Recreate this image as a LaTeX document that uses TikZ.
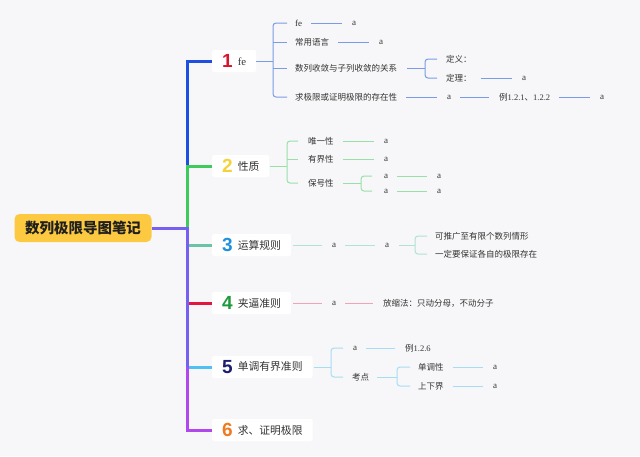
\documentclass[tikz,border=0pt]{standalone}
\usepackage{fontspec}
\setmainfont{Liberation Serif}
\newfontfamily\cjk{Noto Sans CJK SC}
\newfontfamily\numf{Liberation Sans}
\definecolor{bg}{HTML}{F7F7F9}
\definecolor{txt}{HTML}{333333}
\definecolor{rootc}{HTML}{FCC940}
\definecolor{t1}{HTML}{1E4FE0}\definecolor{s1}{HTML}{7C9BE6}
\definecolor{t2}{HTML}{3DCB5C}\definecolor{s2}{HTML}{98E0A8}
\definecolor{t3}{HTML}{6BC3A5}\definecolor{s3}{HTML}{B1E2D2}
\definecolor{t4}{HTML}{E3173E}\definecolor{s4}{HTML}{F2A4B4}
\definecolor{t5}{HTML}{4EC0F2}\definecolor{s5}{HTML}{A6DDF5}
\definecolor{tp}{HTML}{7560F2}\definecolor{t6}{HTML}{B048EE}
\definecolor{n1}{HTML}{D8142E}\definecolor{n2}{HTML}{F5D23C}
\definecolor{n3}{HTML}{1E90DD}\definecolor{n4}{HTML}{1E9A3A}
\definecolor{n5}{HTML}{1E1E6E}\definecolor{n6}{HTML}{F07A1E}
\newcommand{\nm}[3]{{\numf\bfseries\fontsize{19}{19}\selectfont\color{#1}#2}\hspace{5pt}\raisebox{2.5pt}{#3}}
\tikzset{
  sm/.style={anchor=west, inner sep=0pt, text=txt, font=\cjk\fontsize{8.5}{10}\selectfont},
  la/.style={anchor=west, inner sep=0pt, text=txt, font=\rmfamily\fontsize{9}{10}\selectfont},
  br/.style={anchor=west, fill=white, rounded corners=2pt, minimum height=22pt, inner xsep=10pt, inner ysep=0pt, text=txt, font=\cjk\fontsize{10.8}{12}\selectfont},
  rootbox/.style={fill=rootc, rounded corners=5pt, minimum width=137pt, minimum height=28pt, inner sep=0pt, text=black!88, font=\cjk\bfseries\fontsize{14.5}{16}\selectfont},
  tr/.style={line width=3pt},
  sub/.style={line width=1pt},
  gap/.style={shorten <=9pt, shorten >=10pt},
  tick/.style={shorten >=8pt},
}
\begin{document}
\begin{tikzpicture}[x=1pt,y=-1pt]
\useasboundingbox (0,0) rectangle (640,456);
\fill[bg] (0,0) rectangle (640,456);

% root and branches
\node[rootbox] (R) at (83,228) {数列极限导图笔记};
\coordinate (J) at (187,228);
\node[br] (B1) at (212,61) {\nm{n1}{1}{\rmfamily fe}};
\node[br] (B2) at (212,166) {\nm{n2}{2}{性质}};
\node[br] (B3) at (212,245) {\nm{n3}{3}{运算规则}};
\node[br] (B4) at (212,303) {\nm{n4}{4}{夹逼准则}};
\node[br] (B5) at (212,367) {\nm{n5}{5}{单调有界准则}};
\node[br] (B6) at (212,430) {\nm{n6}{6}{求、证明极限}};

% trunk
\draw[tr, t1] (B1.west) -- (B1.west -| J) -- (B2.west -| J);
\draw[tr, t2] (B2.west) -- (B2.west -| J) -- (J);
\draw[tr, t6] (B5.west -| J) -- (B6.west -| J) -- (B6.west);
\draw[tr, tp] (R.east) -- (J) -- (B5.west -| J);
\draw[tr, t3] ([xshift=2pt]B3.west -| J) -- (B3.west);
\draw[tr, t4] ([xshift=2pt]B4.west -| J) -- (B4.west);
\draw[tr, t5] ([xshift=2pt]B5.west -| J) -- (B5.west);

% ---------- branch 1
\node[la] (c11) at (295,23) {fe};
\node[la] (a11) at (352,23) {a};
\node[sm] (c12) at (295,42) {常用语言};
\node[la] (a12) at (379,42) {a};
\node[sm] (c13) at (295,68) {数列收敛与子列收敛的关系};
\node[sm] (d131) at (446,59) {定义：};
\node[sm] (d132) at (446,78) {定理：};
\node[la] (a132) at (522,78) {a};
\node[sm] (c14) at (295,97) {求极限或证明极限的存在性};
\node[la] (a14) at (447,97) {a};
\node[sm] (e14) at (499,97) {例{\rmfamily 1.2.1}、{\rmfamily 1.2.2}};
\node[la] (f14) at (600,97) {a};
\coordinate (k1) at (273,61);
\coordinate (k13) at (425,68);
\draw[sub, s1] (B1.east) -- (k1);
\draw[sub, s1, rounded corners=3pt] ([xshift=-8pt]c11.west) -- (c11.west -| k1) -- (c14.west -| k1) -- ([xshift=-8pt]c14.west);
\draw[sub, s1, tick] (c12.west -| k1) -- (c12.west);
\draw[sub, s1, tick] (c13.west -| k1) -- (c13.west);
\draw[sub, s1, gap] (c11.east) -- (c11.east -| a11.west);
\draw[sub, s1, gap] (c12.east) -- (c12.east -| a12.west);
\draw[sub, s1, shorten <=10pt] (c13.east) -- (k13);
\draw[sub, s1, rounded corners=3pt] ([xshift=-9pt]d131.west) -- (d131.west -| k13) -- (d132.west -| k13) -- ([xshift=-9pt]d132.west);
\draw[sub, s1, gap] (d132.east) -- (d132.east -| a132.west);
\draw[sub, s1, gap] (c14.east) -- (c14.east -| a14.west);
\draw[sub, s1, gap] (a14.east) -- (a14.east -| e14.west);
\draw[sub, s1, gap] (e14.east) -- (e14.east -| f14.west);

% ---------- branch 2
\node[sm] (c21) at (308,141) {唯一性};
\node[la] (a21) at (384,141) {a};
\node[sm] (c22) at (308,159) {有界性};
\node[la] (a22) at (384,159) {a};
\node[sm] (c23) at (308,183) {保号性};
\node[la] (d231) at (384,176) {a};
\node[la] (e231) at (437,176) {a};
\node[la] (d232) at (384,191) {a};
\node[la] (e232) at (437,191) {a};
\coordinate (k2) at (287,166);
\coordinate (k23) at (361,183);
\draw[sub, s2] (B2.east) -- (k2);
\draw[sub, s2, rounded corners=3pt] ([xshift=-10pt]c21.west) -- (c21.west -| k2) -- (c23.west -| k2) -- ([xshift=-10pt]c23.west);
\draw[sub, s2, shorten >=10pt] (c22.west -| k2) -- (c22.west);
\draw[sub, s2, gap] (c21.east) -- (c21.east -| a21.west);
\draw[sub, s2, gap] (c22.east) -- (c22.east -| a22.west);
\draw[sub, s2, shorten <=9pt] (c23.east) -- (k23);
\draw[sub, s2, rounded corners=3pt] ([xshift=-12pt]d231.west) -- (d231.west -| k23) -- (d232.west -| k23) -- ([xshift=-12pt]d232.west);
\draw[sub, s2, gap] (d231.east) -- (d231.east -| e231.west);
\draw[sub, s2, gap] (d232.east) -- (d232.east -| e232.west);

% ---------- branch 3
\node[la] (a31) at (332,245) {a};
\node[la] (a32) at (385,245) {a};
\node[sm] (d31) at (435,236) {可推广至有限个数列情形};
\node[sm] (d32) at (435,254) {一定要保证各自的极限存在};
\coordinate (k3) at (415,245);
\draw[sub, s3, shorten <=2pt, shorten >=10pt] (B3.east) -- (B3.east -| a31.west);
\draw[sub, s3, gap] (a31.east) -- (a31.east -| a32.west);
\draw[sub, s3, shorten <=10pt] (a32.east) -- (k3);
\draw[sub, s3, rounded corners=3pt] ([xshift=-8pt]d31.west) -- (d31.west -| k3) -- (d32.west -| k3) -- ([xshift=-8pt]d32.west);

% ---------- branch 4
\node[la] (a41) at (332,303) {a};
\node[sm] (d41) at (383,303) {放缩法：只动分母，不动分子};
\draw[sub, s4, shorten <=2pt, shorten >=10pt] (B4.east) -- (B4.east -| a41.west);
\draw[sub, s4, gap] (a41.east) -- (a41.east -| d41.west);

% ---------- branch 5
\node[la] (c51) at (353,348) {a};
\node[sm] (d51) at (405,348) {例{\rmfamily 1.2.6}};
\node[sm] (c52) at (352,377) {考点};
\node[sm] (d521) at (418,367) {单调性};
\node[la] (a521) at (493,367) {a};
\node[sm] (d522) at (418,386) {上下界};
\node[la] (a522) at (493,386) {a};
\coordinate (k5) at (331,367);
\coordinate (k52) at (397,377);
\draw[sub, s5, shorten <=1pt] (B5.east) -- (k5);
\draw[sub, s5, rounded corners=3pt] ([xshift=-10pt]c51.west) -- (c51.west -| k5) -- (c52.west -| k5) -- ([xshift=-9pt]c52.west);
\draw[sub, s5, gap] (c51.east) -- (c51.east -| d51.west);
\draw[sub, s5, shorten <=8pt] (c52.east) -- (k52);
\draw[sub, s5, rounded corners=3pt] ([xshift=-8pt]d521.west) -- (d521.west -| k52) -- (d522.west -| k52) -- ([xshift=-8pt]d522.west);
\draw[sub, s5, gap] (d521.east) -- (d521.east -| a521.west);
\draw[sub, s5, gap] (d522.east) -- (d522.east -| a522.west);
\end{tikzpicture}
\end{document}
